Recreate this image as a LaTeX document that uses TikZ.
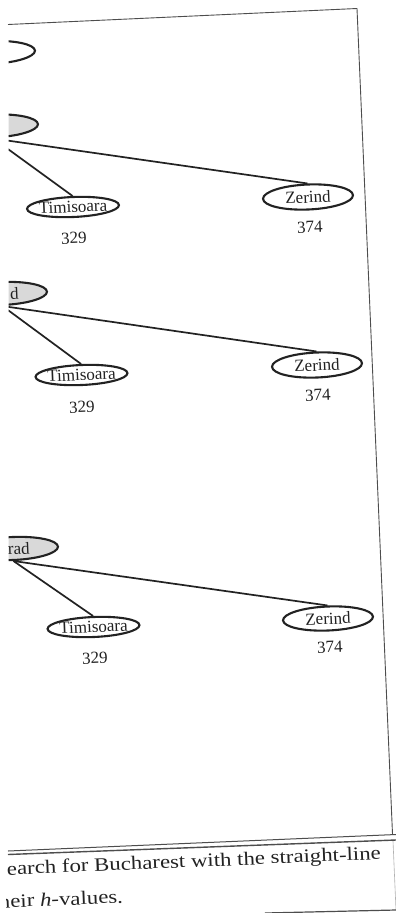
\documentclass[tikz,border=0pt]{standalone}
\usepackage{fontspec}
\setmainfont{Liberation Serif}
\newfontfamily\capfont[FakeStretch=1.2]{Liberation Serif}
\usetikzlibrary{shapes.geometric}
\definecolor{ink}{HTML}{222222}
\definecolor{framec}{HTML}{4D4D4D}
\newcommand\ctxt[1]{\makebox[0pt]{#1}}
\tikzset{
  city/.style={ellipse, draw=ink, line width=2.1pt, inner sep=0pt,
    minimum width=90pt, minimum height=24pt,
    font=\fontsize{17}{17}\selectfont, text=ink, rotate=2.4},
  timi/.style={city, minimum width=92pt, minimum height=20pt},
  expanded/.style={city, fill=gray!30, minimum height=23pt},
  hval/.style={font=\fontsize{17}{17}\selectfont, text=ink, rotate=2.4, inner sep=0pt},
  frag/.style={font=\fontsize{17}{17}\selectfont, text=ink, rotate=2.4, inner sep=0pt, anchor=base east},
  treeedge/.style={draw=ink, line width=1.7pt},
  frameline/.style={draw=framec, line width=0.9pt},
  captext/.style={font=\capfont\fontsize{19}{19}\selectfont, text=ink, rotate=2.4, inner sep=0pt, anchor=base west}
}
\begin{document}
\begin{tikzpicture}[x=1pt, y=-1pt]
\useasboundingbox[fill=white] (0,0) rectangle (396,913);

% frame
\coordinate (ftl) at (8,24.5);
\coordinate (ftr) at (357,8.5);
\coordinate (fbr) at (392.5,834);
\draw[frameline] (ftl) -- (ftr) -- (fbr);

\begin{scope}
\clip (8.5,0) rectangle (396,913);

% (a) initial state
\node[city, minimum height=23pt] (a0) at (-10,52.5) {};

% (b)
\node[expanded] (a1) at (-7,126) {};
\node[timi] (t1) at (73,207) {\ctxt{Timisoara}};
\node[city, minimum height=25pt] (z1) at (308,197) {\ctxt{Zerind}};
\draw[treeedge] (a1.south) -- (t1.north);
\draw[treeedge] (a1.south) -- (z1.north);
\node[hval] (h329a) at (74,238) {329};
\node[hval] (h374a) at (310,227) {374};

% (c)
\node[expanded] (a2) at (2,293.5) {};
\node[timi] (t2) at (81.5,375) {\ctxt{Timisoara}};
\node[city, minimum height=25pt] (z2) at (317,365) {\ctxt{Zerind}};
\draw[treeedge] (a2.south) -- (t2.north);
\draw[treeedge] (a2.south) -- (z2.north);
\node[hval] (h329b) at (82,407) {329};
\node[hval] (h374b) at (318,395) {374};

% (d)
\node[expanded] (a3) at (13,548.5) {};
\node[timi] (t3) at (93.5,627) {\ctxt{Timisoara}};
\node[city, minimum height=24pt] (z3) at (328,618.5) {\ctxt{Zerind}};
\draw[treeedge] (a3.south) -- (t3.north);
\draw[treeedge] (a3.south) -- (z3.north);
\node[hval] (h329c) at (95,658) {329};
\node[hval] (h374c) at (330,647) {374};
\end{scope}

% visible fragments of the clipped root labels
\node[frag] (fd) at (19,299.5) {d};
\node[frag] (frad) at (30,554) {rad};

% rules below the figure
\coordinate (r1l) at (8,851);
\coordinate (r1r) at (396,834.5);
\coordinate (r2l) at (8,854.5);
\coordinate (r2r) at (396,840);
\draw[draw=framec, line width=1pt] (r1l) -- (r1r);
\draw[draw=framec, line width=1.4pt] (r2l) -- (r2r);
\coordinate (vr1) at (393,841);
\coordinate (vr2) at (396,910);
\draw[draw=gray!60, line width=0.6pt] (vr1) -- (vr2);
\coordinate (bl) at (265,913);
\coordinate (br) at (396,910);
\draw[draw=framec, line width=1.2pt] (bl) -- (br);

% caption
\node[captext] (cap1) at (7,875) {earch for Bucharest with the straight-line};
\begin{scope}
\clip (6.5,885) rectangle (396,913);
\node[captext] (cap2) at (-1,908) {heir \textit{h}-values.};
\end{scope}
\end{tikzpicture}
\end{document}
